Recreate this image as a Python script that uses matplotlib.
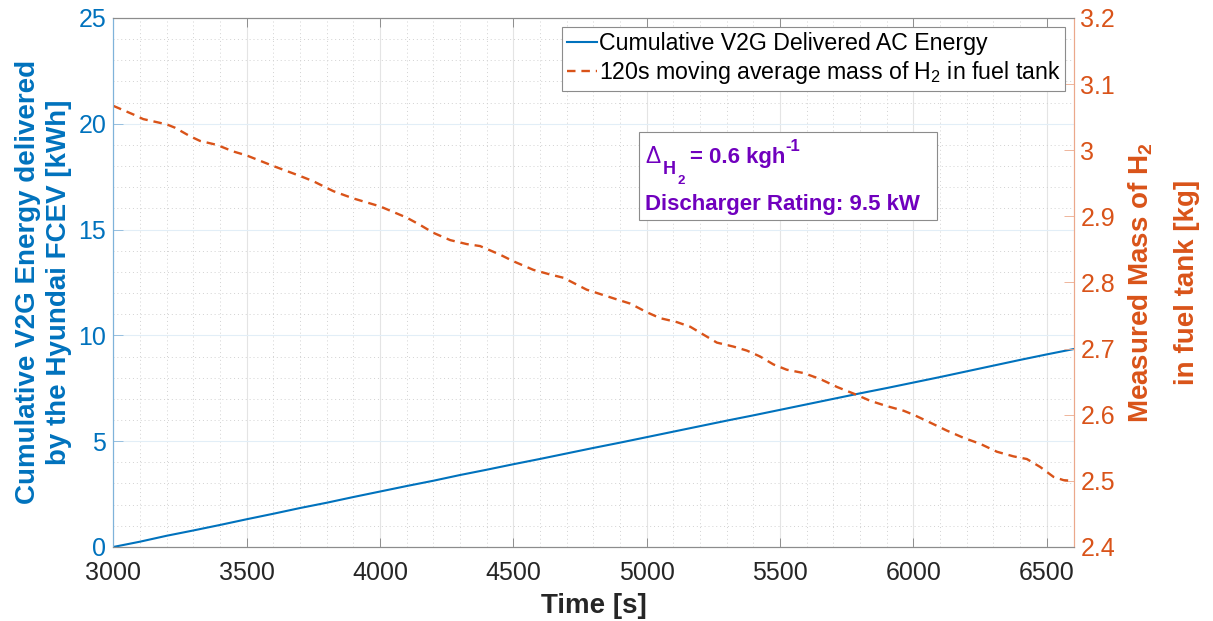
import matplotlib
matplotlib.use("Agg")
import matplotlib.pyplot as plt
from matplotlib.ticker import MultipleLocator
from matplotlib.patches import Rectangle

plt.rcParams['font.family'] = ['Liberation Sans', 'DejaVu Sans']
plt.rcParams['mathtext.fontset'] = 'custom'
plt.rcParams['mathtext.rm'] = 'Liberation Sans'
plt.rcParams['mathtext.it'] = 'Liberation Sans:italic'
plt.rcParams['mathtext.bf'] = 'Liberation Sans:bold'

# ---- data ----
energy_time = [3000, 3100, 3200, 3300, 3400, 3500, 3600, 3700, 3800, 3900,
               4000, 4100, 4200, 4300, 4400, 4500, 4600, 4700, 4800, 4900,
               5000, 5100, 5200, 5300, 5400, 5500, 5600, 5700, 5800, 5900,
               6000, 6100, 6200, 6300, 6400, 6500, 6600]
energy_kwh = [0.00, 0.25, 0.53, 0.78, 1.04, 1.31, 1.57, 1.84, 2.09, 2.36,
              2.62, 2.88, 3.13, 3.40, 3.65, 3.91, 4.16, 4.42, 4.68, 4.93,
              5.19, 5.45, 5.71, 5.97, 6.22, 6.48, 6.74, 7.00, 7.26, 7.51,
              7.77, 8.03, 8.30, 8.57, 8.84, 9.10, 9.35]

h2_time = [3000, 3075, 3112, 3200, 3231, 3288, 3325, 3388, 3450, 3500,
           3600, 3700, 3750, 3825, 3900, 4000, 4100, 4150, 4200, 4263,
           4325, 4375, 4450, 4500, 4575, 4638, 4688, 4775, 4875, 4938,
           5000, 5050, 5113, 5163, 5213, 5263, 5325, 5375, 5425, 5475,
           5525, 5588, 5650, 5713, 5775, 5838, 5900, 5963, 6000, 6063,
           6125, 6188, 6250, 6313, 6375, 6425, 6475, 6525, 6563, 6600]
h2_mass = [3.067, 3.054, 3.047, 3.039, 3.034, 3.021, 3.014, 3.008, 2.998, 2.992,
           2.976, 2.961, 2.953, 2.938, 2.927, 2.915, 2.898, 2.887, 2.875, 2.864,
           2.858, 2.855, 2.842, 2.832, 2.819, 2.812, 2.807, 2.789, 2.776, 2.768,
           2.755, 2.746, 2.740, 2.733, 2.721, 2.709, 2.703, 2.697, 2.688, 2.676,
           2.668, 2.663, 2.654, 2.642, 2.632, 2.621, 2.613, 2.606, 2.600, 2.588,
           2.576, 2.565, 2.556, 2.544, 2.537, 2.533, 2.521, 2.506, 2.501, 2.500]

label_energy = 'Cumulative V2G Delivered AC Energy'
label_h2 = r'120s moving average mass of H$_2$ in fuel tank'
ylabel_left = 'Cumulative V2G Energy delivered\nby the Hyundai FCEV [kWh]'
ylabel_right = 'Measured Mass of H$_\\mathbf{2}$\nin fuel tank [kg]'
xlabel = 'Time [s]'
annot_line2 = 'Discharger Rating: 9.5 kW'

BLUE = '#0072BD'
ORANGE = '#D95319'
PURPLE = '#7000BE'
DARK = '#262626'

fig = plt.figure(figsize=(12.13, 6.21), dpi=100)
ax1 = fig.add_axes([0.0934, 0.1192, 0.7916, 0.852])
ax2 = ax1.twinx()

ln1, = ax1.plot(energy_time, energy_kwh, color=BLUE, lw=1.5, label=label_energy)
ln2, = ax2.plot(h2_time, h2_mass, color=ORANGE, lw=1.7, ls=(0, (3.6, 2.5)), label=label_h2)

ax1.set_xlim(3000, 6600)
ax1.set_ylim(0, 25)
ax2.set_ylim(2.4, 3.2)

ax1.xaxis.set_major_locator(MultipleLocator(500))
ax1.xaxis.set_minor_locator(MultipleLocator(100))
ax1.yaxis.set_major_locator(MultipleLocator(5))
ax1.yaxis.set_minor_locator(MultipleLocator(1))

ax2.set_yticks([2.4, 2.5, 2.6, 2.7, 2.8, 2.9, 3.0, 3.1, 3.2])
ax2.set_yticklabels(['2.4', '2.5', '2.6', '2.7', '2.8', '2.9', '3', '3.1', '3.2'])

# grid
ax1.set_axisbelow(True)
ax1.xaxis.grid(True, which='major', color='#e4e4e4', lw=0.8)
ax1.yaxis.grid(True, which='major', color='#e2eef7', lw=0.8)
ax1.xaxis.grid(True, which='minor', color='#d2d2d2', lw=0.7, ls=(0, (1, 3)))
ax1.yaxis.grid(True, which='minor', color='#d2d2d2', lw=0.7, ls=(0, (1, 3)))

# ticks
ax1.tick_params(axis='x', which='major', direction='in', length=6.5, width=0.6,
                color='#808080', labelsize=18, labelcolor=DARK, pad=10, top=True)
ax1.tick_params(axis='x', which='minor', length=0)
ax1.tick_params(axis='y', which='major', direction='in', length=7, width=0.6,
                color='#8ab8dc', labelsize=18, labelcolor=BLUE, pad=5)
ax1.tick_params(axis='y', which='minor', length=0)
ax2.tick_params(axis='y', which='major', direction='in', length=7, width=0.6,
                color='#eda98c', labelsize=18, labelcolor=ORANGE, pad=5)
ax2.tick_params(axis='y', which='minor', length=0)

for ax in (ax1, ax2):
    ax.spines['top'].set_color('#8c8c8c')
    ax.spines['bottom'].set_color('#8c8c8c')
    ax.spines['left'].set_color('#7fb3da')
    ax.spines['right'].set_color('#eba88b')
    for s in ax.spines.values():
        s.set_linewidth(0.8)

# labels
ax1.set_xlabel(xlabel, fontsize=20, fontweight='bold', color=DARK, labelpad=6)
ax1.set_ylabel(ylabel_left, fontsize=20, fontweight='bold', color=BLUE, linespacing=1.25)
ax1.yaxis.set_label_coords(-0.043, 0.5)
ax2.set_ylabel(ylabel_right, fontsize=20, fontweight='bold', color=ORANGE, linespacing=1.95)
ax2.yaxis.set_label_coords(1.055, 0.5)

# legend
leg = ax2.legend(handles=[ln1, ln2], loc='upper right', bbox_to_anchor=(0.9915, 0.9824),
                 borderaxespad=0, fontsize=16.7, frameon=True, fancybox=False,
                 edgecolor='#8c8c8c', framealpha=1, handlelength=1.3,
                 handletextpad=0.1, borderpad=0.2, labelspacing=0.2)
leg.get_frame().set_linewidth(0.8)


def px(x, y):
    """pixel position (from top-left of figure) -> axes fraction"""
    return (x - 113.3) / 960.2, (547.0 - y) / 529.0


# annotation box
bx0, by0 = px(639.3, 220.3)
bx1, by1 = px(937.3, 132.3)
ax2.add_patch(Rectangle((bx0, by0), bx1 - bx0, by1 - by0,
                        transform=ax2.transAxes, facecolor='white',
                        edgecolor='#8c8c8c', lw=0.8, zorder=5))
pieces = [
    ('\u0394', 645, 163, 16.5, 'normal'),
    ('H', 663, 174, 13, 'bold'),
    ('2', 677, 184.5, 9.5, 'bold'),
    ('= 0.6 kgh', 690, 163, 16, 'bold'),
    ('-1', 785, 151.5, 12, 'bold'),
    (annot_line2, 645, 210, 16, 'bold'),
]
for txt, x, y, fs, fw in pieces:
    ax2.text(*px(x, y), txt, transform=ax2.transAxes, fontsize=fs,
             fontweight=fw, color=PURPLE, va='baseline', ha='left', zorder=6)

fig.savefig('out.png', dpi=100, facecolor='white')
